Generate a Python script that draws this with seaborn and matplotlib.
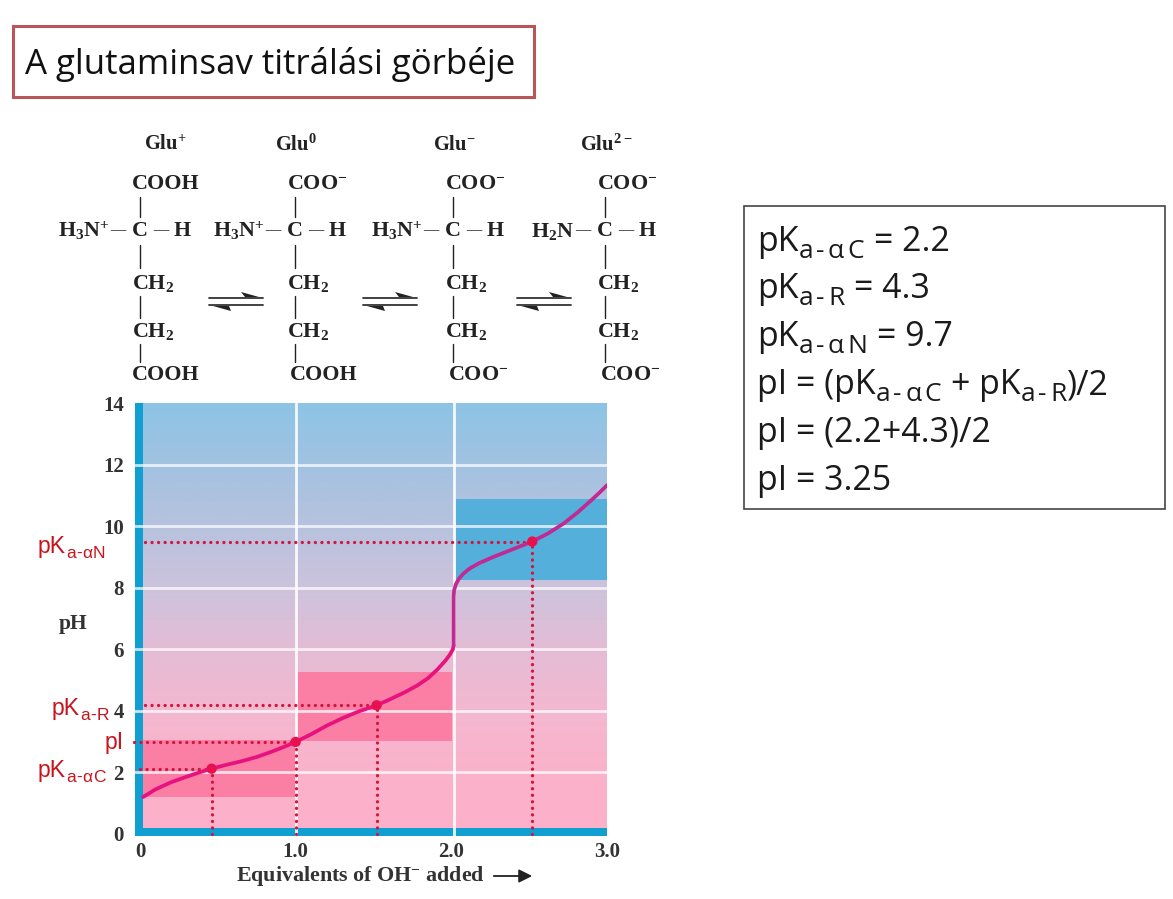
import numpy as np
import pandas as pd
import matplotlib
matplotlib.use('Agg')
import matplotlib.pyplot as plt
from matplotlib.colors import LinearSegmentedColormap
from matplotlib.patches import Rectangle, Polygon
import seaborn as sns

# curve
equiv_low = [0.02, 0.10, 0.20, 0.30, 0.40, 0.46, 0.55, 0.65, 0.75, 0.85, 0.93, 1.00, 1.10, 1.20, 1.30, 1.40, 1.52, 1.60, 1.70, 1.78, 1.85, 1.91, 1.96, 1.99, 2.01, 2.015]
ph_low = [1.20, 1.45, 1.68, 1.86, 2.03, 2.12, 2.24, 2.36, 2.50, 2.68, 2.84, 2.99, 3.24, 3.52, 3.76, 3.97, 4.18, 4.36, 4.60, 4.82, 5.06, 5.34, 5.62, 5.82, 6.00, 6.12]
equiv_high = [2.015, 2.015, 2.018, 2.03, 2.05, 2.08, 2.12, 2.18, 2.27, 2.38, 2.52, 2.62, 2.72, 2.81, 2.89, 2.95, 3.00]
ph_high = [6.12, 7.70, 7.92, 8.12, 8.30, 8.47, 8.63, 8.80, 9.00, 9.22, 9.50, 9.76, 10.08, 10.44, 10.80, 11.08, 11.33]

# labelled points
point_x = [0.46, 1.00, 1.52, 2.52]
point_y = [2.12, 2.99, 4.18, 9.50]

# buffer bands
band_x0 = [0.02, 1.015, 2.03]
band_x1 = [1.00, 2.005, 3.00]
band_y0 = [1.20, 3.02, 8.25]
band_y1 = [3.05, 5.26, 10.88]
band_colors = ['#fb7fa5', '#fb7fa5', '#54afdb']

# background gradient
grad_ph = [0, 2, 4, 6, 8, 10, 12, 14]
grad_colors = ['#fdb0c9', '#fbb2ca', '#f3b8d0', '#e4bcd5', '#cdc3dc', '#b7c2de', '#a2c2e1', '#8cc4e5']

x_ticks = [0, 1, 2, 3]
x_labels = ['0', '1.0', '2.0', '3.0']
y_ticks = [0, 2, 4, 6, 8, 10, 12, 14]

title_text = 'A glutaminsav titrálási görbéje'

# runs of text: plain strings, or ('sub', text) for subscripts
SUB_C = ('sub', 'a-αC')
SUB_R = ('sub', 'a-R')
SUB_N = ('sub', 'a-αN')
box_lines = [
    ['pK', SUB_C, '= 2.2'],
    ['pK', SUB_R, '= 4.3'],
    ['pK', SUB_N, '= 9.7'],
    ['pI = (pK', SUB_C, '+ pK', SUB_R, ')/2'],
    ['pI = (2.2+4.3)/2'],
    ['pI = 3.25'],
]
box_base = [251, 298, 346, 394, 442, 490]

# red labels next to the y axis: left px, baseline px, runs
red_left = [38, 105, 52, 38]
red_base = [777, 749, 715, 553]
red_runs = [['pK', SUB_C], ['pI'], ['pK', SUB_R], ['pK', SUB_N]]

# structures, one entry per form
glu_names = ['Glu$^{+}$', 'Glu$^{0}$', 'Glu$^{-}$', 'Glu$^{2-}$']
glu_top = ['COOH', 'COO$^{-}$', 'COO$^{-}$', 'COO$^{-}$']
glu_amino = ['H$_3$N$^{+}$', 'H$_3$N$^{+}$', 'H$_3$N$^{+}$', 'H$_2$N']
glu_bottom = ['COOH', 'COOH', 'COO$^{-}$', 'COO$^{-}$']
glu_c_px = [140, 295, 453, 605]

sns.set_theme(style='white')
plt.rcParams['mathtext.default'] = 'regular'
plt.rcParams['font.family'] = ['Liberation Serif', 'DejaVu Sans']

W, H = 1173, 899
fig = plt.figure(figsize=(W / 100, H / 100), dpi=100)

# page layer in pixel coordinates for the slide furniture
page = fig.add_axes([0, 0, 1, 1])
page.set_xlim(0, W)
page.set_ylim(H, 0)
page.axis('off')
renderer = fig.canvas.get_renderer()


def draw_runs(x, base, runs, size, sub_size, sub_drop, track, gap, **kw):
    # lay text pieces out one after the other, subscripts a little lower
    for run in runs:
        if isinstance(run, tuple):
            for ch in run[1]:
                t = page.text(x, base + sub_drop, ch, fontsize=sub_size, va='baseline', **kw)
                x = t.get_window_extent(renderer).x1 + track
            x -= track
        else:
            if not run.startswith(('pK', 'pI', ')')):
                x += gap
            elif run.startswith('pK') is False and run.startswith(')'):
                x += 1
            t = page.text(x, base, run, fontsize=size, va='baseline', **kw)
            x = t.get_window_extent(renderer).x1


page.add_patch(Rectangle((13, 26), 521, 71, fc='white', ec='#b9565a', lw=2.2))
page.text(25, 64, title_text, fontsize=25.1, family='Open Sans', va='center', color='#111111')

page.add_patch(Rectangle((744, 206), 421, 303, fc='white', ec='#444444', lw=1.2))
for runs, base in zip(box_lines, box_base):
    draw_runs(757, base, runs, 24.4, 19, 7, 3.2, 10, family='Open Sans', color='#1a1a1a')

ink = '#222222'
chem = dict(fontsize=15.8, color=ink, va='center', fontweight='bold')
for i, c in enumerate(glu_c_px):
    page.text(c + (25 if i == 0 else 1), 145, glu_names[i], ha='center', fontsize=14.8, color=ink, va='center', fontweight='bold')
    page.text(c - 8, 184, glu_top[i], ha='left', **chem)
    page.text(c, 231, 'C', ha='center', **chem)
    page.text(c + 21, 231, '—', ha='center', fontsize=11, color=ink, va='center')
    page.text(c + 42, 231, 'H', ha='center', **chem)
    page.text(c - 22, 231, '—', ha='center', fontsize=11, color=ink, va='center')
    page.text(c - 31, 231, glu_amino[i], ha='right', **chem)
    page.text(c - 8, 283, 'CH$_2$', ha='left', **chem)
    page.text(c - 8, 331, 'CH$_2$', ha='left', **chem)
    page.text(c - 8 + (3 if i else 0), 375, glu_bottom[i], ha='left', **chem)
    for y0, y1 in [(197, 217), (245, 268), (296, 318), (344, 362)]:
        page.plot([c, c], [y0, y1], color=ink, lw=1.0)

for x0 in [209, 363, 517]:
    page.plot([x0, x0 + 54], [298, 298], color='#333333', lw=1.3)
    page.plot([x0, x0 + 54], [305, 305], color='#333333', lw=1.3)
    page.add_patch(Polygon([[x0 + 32, 292], [x0 + 50, 297], [x0 + 36, 297]], fc='#222222', ec='none'))
    page.add_patch(Polygon([[x0 + 4, 306], [x0 + 20, 306], [x0 + 22, 311]], fc='#222222', ec='none'))

# chart axes
ax = fig.add_axes([135 / W, 1 - 835.5 / H, (607 - 135) / W, (835.5 - 403) / H])
ax.patch.set_alpha(0)
ax.set_xlim(-0.032, 3.0)
ax.set_ylim(-0.05, 14)

cmap = LinearSegmentedColormap.from_list('bg', list(zip(np.array(grad_ph) / 14, grad_colors)))
ax.imshow(np.linspace(1, 0, 256).reshape(-1, 1), extent=[-0.032, 3.0, -0.05, 14], aspect='auto', cmap=cmap, zorder=0)

for x0, x1, y0, y1, col in zip(band_x0, band_x1, band_y0, band_y1, band_colors):
    ax.add_patch(Rectangle((x0, y0), x1 - x0, y1 - y0, fc=col, ec='none', zorder=1))

# blue axis bars
ax.axvspan(-0.032, 0.02, color='#0f9fd0', lw=0, zorder=2)
ax.axhspan(-0.05, 0.2, color='#0f9fd0', lw=0, zorder=2)

for y in y_ticks[1:-1]:
    ax.axhline(y, color='white', lw=2, alpha=0.75, zorder=3)
for x in x_ticks[1:-1]:
    ax.axvline(x + (0.015 if x == 2 else 0), color='white', lw=2, alpha=0.9, zorder=3)

# dotted guides
red = '#d0173f'
dots = dict(color=red, lw=2.4, ls=(0, (0.01, 1.95)), dash_capstyle='round', zorder=4, clip_on=False)
ax.plot([0.0, point_x[0]], [point_y[0]] * 2, **dots)
ax.plot([-0.04, point_x[1]], [point_y[1]] * 2, **dots)
ax.plot([0.03, point_x[2]], [point_y[2]] * 2, **dots)
ax.plot([0.03, point_x[3]], [point_y[3]] * 2, **dots)
for px, py in zip(point_x, point_y):
    ax.plot([px, px], [0, py], **dots)

low = pd.DataFrame({'equiv': equiv_low, 'ph': ph_low})
high = pd.DataFrame({'equiv': equiv_high, 'ph': ph_high})
sns.lineplot(data=low, x='equiv', y='ph', sort=False, estimator=None, color='#e8127f', lw=2.7, ax=ax, zorder=5)
sns.lineplot(data=high, x='equiv', y='ph', sort=False, estimator=None, color='#c22a93', lw=2.7, ax=ax, zorder=5)
sns.scatterplot(x=point_x, y=point_y, color='#e8104f', s=55, edgecolor='none', ax=ax, zorder=6)

ax.set_xticks(x_ticks)
ax.set_xticklabels(x_labels)
ax.set_yticks(y_ticks)
ax.tick_params(axis='both', length=0, labelsize=15, labelcolor='#333333')
ax.tick_params(axis='y', pad=8)
ax.tick_params(axis='x', pad=5)
for t in ax.get_xticklabels() + ax.get_yticklabels():
    t.set_fontweight('bold')
ax.set_xlabel('')
ax.set_ylabel('')
sns.despine(ax=ax, left=True, bottom=True, top=True, right=True)

for left, base, runs in zip(red_left, red_base, red_runs):
    draw_runs(left, base, runs, 16.5, 12.5, 5, 0.5, 0, family='Liberation Sans', color='#c8141c')

page.text(73, 624, 'pH', ha='center', va='center', fontsize=15.5, color='#333333', fontweight='bold')
page.text(360, 876, 'Equivalents of OH$^{-}$ added', ha='center', va='center', fontsize=15.8, color='#333333', fontweight='bold')
page.annotate('', xy=(535, 876), xytext=(491, 876), arrowprops=dict(arrowstyle='-|>', color='#222222', lw=1.3, mutation_scale=20))

fig.savefig('out.png', dpi=100)
